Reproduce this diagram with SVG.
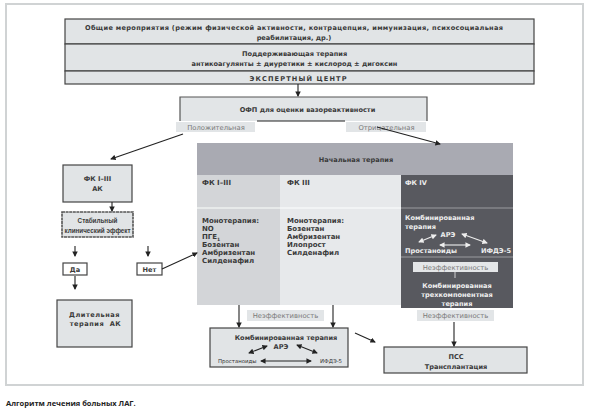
<svg xmlns="http://www.w3.org/2000/svg" width="595" height="416" viewBox="0 0 595 416">
<defs>
<style>
.t{font-family:"DejaVu Sans",Verdana,sans-serif;font-size:6.6px;font-weight:bold;fill:#3a3a3a}
.tc{font-family:"DejaVu Sans",Verdana,sans-serif;font-size:7px;font-weight:bold;fill:#3a3a3a}
.tn{font-family:"Liberation Sans",Arial,sans-serif;font-size:6.3px;font-weight:bold;fill:#3a3a3a}
.tw{font-family:"DejaVu Sans",Verdana,sans-serif;font-size:6.6px;font-weight:bold;fill:#eeeeee}
.tl{font-family:"DejaVu Sans",Verdana,sans-serif;font-size:6.8px;fill:#7a7a7a}
.ts{font-family:"DejaVu Sans",Verdana,sans-serif;font-size:5.4px;fill:#333}
.box{fill:#e1e4e6;stroke:#444;stroke-width:1.2}
.lab{fill:#e2e5e7;stroke:none}
.c{stroke:#222;stroke-width:1.1;fill:none}
.cw{stroke:#eeeeee;stroke-width:1.1;fill:none}
</style>
<marker id="a" viewBox="0 0 6 6" refX="5" refY="3" markerWidth="5" markerHeight="5" orient="auto-start-reverse"><path d="M0,0L6,3L0,6z" fill="#222"/></marker>
<marker id="aw" viewBox="0 0 6 6" refX="5" refY="3" markerWidth="5" markerHeight="5" orient="auto-start-reverse"><path d="M0,0L6,3L0,6z" fill="#eeeeee"/></marker>
</defs>
<rect x="6" y="4" width="577" height="381" fill="#fff" stroke="#d0d3d4" stroke-width="2"/>

<g id="general">
<rect x="65" y="19" width="469" height="25" class="box"/>
<text class="t" x="294" y="29.5" text-anchor="middle" textLength="418">Общие мероприятия (режим физической активности, контрацепция, иммунизация, психосоциальная</text>
<text class="t" x="294" y="40" text-anchor="middle">реабилитация, др.)</text>
</g>
<g id="support">
<rect x="65" y="44" width="469" height="27" class="box"/>
<text class="t" x="294.5" y="56" text-anchor="middle">Поддерживающая терапия</text>
<text class="t" x="294.5" y="65.5" text-anchor="middle">антикоагулянты ± диуретики ± кислород ± дигоксин</text>
</g>
<g id="expert">
<rect x="65" y="71" width="469" height="13" class="box"/>
<text class="t" x="298" y="81" text-anchor="middle" textLength="97">ЭКСПЕРТНЫЙ ЦЕНТР</text>
</g>

<g id="ofp">
<rect x="180" y="97" width="247" height="24" fill="#e2e5e7"/>
<path d="M180,121V97H427V121" fill="none" stroke="#555" stroke-width="1.2"/>
<line x1="257" y1="121" x2="345" y2="121" stroke="#222" stroke-width="1"/>
<text class="t" x="307.5" y="111.5" text-anchor="middle" font-size="7.1">ОФП для оценки вазореактивности</text>
</g>
<g id="positive">
<rect x="176" y="122" width="79" height="10" class="lab"/>
<text class="tl" x="216" y="129.5" text-anchor="middle">Положительная</text>
</g>
<g id="negative">
<rect x="346" y="122" width="80" height="10" class="lab"/>
<text class="tl" x="386.5" y="129.5" text-anchor="middle">Отрицательная</text>
</g>

<g id="initial">
<rect x="197" y="143" width="316" height="32" fill="#a9aab2"/>
<text class="t" x="356" y="162" text-anchor="middle" font-size="6.9">Начальная терапия</text>
</g>
<g id="fk13col">
<rect x="197" y="175" width="83" height="130" fill="#d3d5d8"/>
<line x1="197" y1="208" x2="280" y2="208" stroke="#eef0f1" stroke-width="1.5"/>
<text class="tc" x="202" y="185" font-size="6.6">ФК I–III</text>
<text class="tc" x="202" y="223">Монотерапия:</text>
<text class="tc" x="202" y="231">NO</text>
<text class="tc" x="202" y="239">ПГЕ<tspan font-size="4.5" dy="1.5">1</tspan></text>
<text class="tc" x="202" y="247">Бозентан</text>
<text class="tc" x="202" y="255">Амбризентан</text>
<text class="tc" x="202" y="263">Силденафил</text>
</g>
<g id="fk3col">
<rect x="280" y="175" width="121" height="130" fill="#e7e9eb"/>
<line x1="280" y1="208" x2="401" y2="208" stroke="#f6f7f8" stroke-width="1.5"/>
<text class="tc" x="287" y="185" font-size="6.6">ФК III</text>
<text class="tc" x="287" y="223">Монотерапия:</text>
<text class="tc" x="287" y="231">Бозентан</text>
<text class="tc" x="287" y="239">Амбризентан</text>
<text class="tc" x="287" y="247">Илопрост</text>
<text class="tc" x="287" y="255">Силденафил</text>
</g>
<g id="fk4col">
<rect x="401" y="175" width="112" height="133" fill="#58595f"/>
<line x1="401" y1="208" x2="513" y2="208" stroke="#9a9ba0" stroke-width="1.2"/>
<line x1="401" y1="257" x2="513" y2="257" stroke="#9a9ba0" stroke-width="1.2"/>
<text class="tw" x="405" y="185">ФК IV</text>
<text class="tw" x="405" y="220">Комбинированная</text>
<text class="tw" x="405" y="228.5">терапия</text>
<text class="tw" x="448" y="236.5" text-anchor="middle">АРЭ</text>
<line x1="436" y1="235" x2="419" y2="242" class="cw" marker-end="url(#aw)" marker-start="url(#aw)"/>
<line x1="462" y1="234" x2="487" y2="243" class="cw" marker-end="url(#aw)" marker-start="url(#aw)"/>
<line x1="440" y1="245" x2="470" y2="245" class="cw" marker-end="url(#aw)" marker-start="url(#aw)"/>
<text class="tw" x="405" y="252.5" font-weight="normal" font-size="6.3">Простаноиды</text>
<text class="tw" x="511" y="252.5" text-anchor="end" font-weight="normal" font-size="6.3">ИФДЭ-5</text>
<rect x="413" y="262" width="85" height="10" fill="#e4e6e8"/>
<text class="tl" x="455.5" y="269.5" text-anchor="middle">Неэффективность</text>
<line x1="455" y1="272" x2="455" y2="278" stroke="#eeeeee" stroke-width="0.8"/>
<text class="tw" x="457" y="287.5" text-anchor="middle" font-size="6.8">Комбинированная</text>
<text class="tw" x="457" y="296.5" text-anchor="middle" font-size="6.8">трехкомпонентная</text>
<text class="tw" x="457" y="305.5" text-anchor="middle" font-size="6.8">терапия</text>
</g>
<g id="ineff-right">
<rect x="417" y="310" width="77" height="11" class="lab"/>
<text class="tl" x="455.5" y="318" text-anchor="middle">Неэффективность</text>
</g>
<g id="ineff-mid">
<rect x="247" y="310" width="77" height="11" class="lab"/>
<text class="tl" x="285.5" y="318" text-anchor="middle">Неэффективность</text>
</g>

<g id="fk13ak">
<rect x="63" y="165" width="69" height="37" class="box"/>
<text class="t" x="97.5" y="181" text-anchor="middle">ФК I–III</text>
<text class="t" x="97.5" y="191" text-anchor="middle">АК</text>
</g>
<g id="stable">
<rect x="62" y="212" width="71" height="25" fill="#e1e4e6" stroke="#555" stroke-width="1.6" stroke-dasharray="3,0.6"/>
<text class="tn" x="97.5" y="223" text-anchor="middle">Стабильный</text>
<text class="tn" x="97.5" y="232.5" text-anchor="middle">клинический эффект</text>
</g>
<g id="yes">
<rect x="63" y="263" width="24" height="12" fill="#fff" stroke="#444" stroke-width="1.2"/>
<text class="t" x="75" y="271.5" text-anchor="middle">Да</text>
</g>
<g id="no">
<rect x="137" y="263" width="25" height="12" fill="#fff" stroke="#444" stroke-width="1.2"/>
<text class="t" x="149.5" y="271.5" text-anchor="middle">Нет</text>
</g>
<g id="longterm">
<rect x="57" y="300" width="75" height="47" class="box"/>
<text class="t" x="94.5" y="317" text-anchor="middle" letter-spacing="0.5">Длительная</text>
<text class="t" x="95.5" y="326" text-anchor="middle" letter-spacing="0.5" xml:space="preserve">терапия  АК</text>
</g>

<g id="combo">
<rect x="210" y="328" width="138" height="39" class="box"/>
<text class="t" x="286" y="340" text-anchor="middle" font-size="7.4">Комбинированная терапия</text>
<text class="t" x="281" y="348.5" text-anchor="middle" font-size="7.4">АРЭ</text>
<line x1="267" y1="346" x2="249" y2="353" class="c" marker-end="url(#a)" marker-start="url(#a)"/>
<line x1="297" y1="345" x2="317" y2="353" class="c" marker-end="url(#a)" marker-start="url(#a)"/>
<line x1="261" y1="361" x2="311" y2="361" class="c" marker-end="url(#a)" marker-start="url(#a)"/>
<text class="ts" x="218" y="363">Простаноиды</text>
<text class="ts" x="320" y="363">ИФДЭ-5</text>
</g>
<g id="pss">
<rect x="384" y="347" width="143" height="26" class="box"/>
<text class="t" x="456" y="358.5" text-anchor="middle">ПСС</text>
<text class="t" x="456" y="368.5" text-anchor="middle">Трансплантация</text>
</g>

<g id="connectors">
<line x1="298" y1="84" x2="298" y2="96" class="c" marker-end="url(#a)"/>
<line x1="183" y1="134" x2="111" y2="159" class="c" marker-end="url(#a)"/>
<line x1="377" y1="127" x2="440" y2="144" class="c" marker-end="url(#a)"/>
<line x1="112" y1="202" x2="112" y2="211" class="c" marker-end="url(#a)"/>
<line x1="75" y1="246" x2="75" y2="256" class="c" marker-end="url(#a)"/>
<line x1="148" y1="246" x2="148" y2="256" class="c" marker-end="url(#a)"/>
<line x1="75" y1="276" x2="75" y2="289" class="c" marker-end="url(#a)"/>
<line x1="162" y1="269" x2="197" y2="253" class="c" marker-end="url(#a)"/>
<line x1="239" y1="305" x2="239" y2="327" class="c" marker-end="url(#a)"/>
<line x1="333" y1="305" x2="333" y2="327" class="c" marker-end="url(#a)"/>
<line x1="355" y1="333" x2="375" y2="342" class="c" marker-end="url(#a)"/>
<line x1="454" y1="322" x2="454" y2="346" class="c" marker-end="url(#a)"/>
</g>

<text x="6" y="406" font-family="'Open Sans','Liberation Sans',sans-serif" font-size="7.5" font-weight="bold" fill="#222">Алгоритм лечения больных ЛАГ.</text>
</svg>
